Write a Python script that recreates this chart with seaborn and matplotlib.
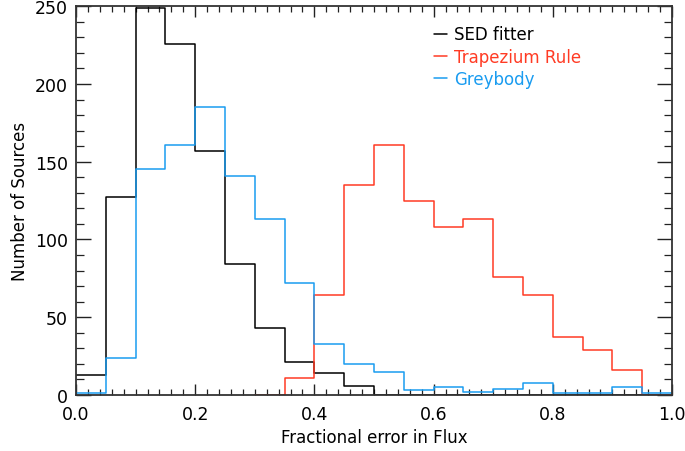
import numpy as np
import pandas as pd
import matplotlib
matplotlib.use("Agg")
import matplotlib.pyplot as plt
from matplotlib.ticker import MultipleLocator, FormatStrFormatter
import seaborn as sns

# Histogram bins of fractional flux error (width 0.05 from 0 to 1)
bin_edges = [round(0.05 * i, 2) for i in range(21)]
bin_centres = [round(0.05 * i + 0.025, 3) for i in range(20)]

# Counts per bin for each method
sed_fitter = [13, 127, 249, 226, 157, 84, 43, 21, 14, 6,
              0, 0, 0, 0, 0, 0, 0, 0, 0, 0]
trapezium = [0, 0, 0, 0, 0, 0, 0, 11, 64, 135,
             161, 125, 108, 113, 76, 64, 37, 29, 16, 0]
greybody = [1, 24, 145, 161, 185, 141, 113, 72, 33, 20,
            15, 3, 5, 2, 4, 8, 1, 1, 5, 1]

series_names = ["SED fitter", "Trapezium Rule", "Greybody"]
series_colors = ["#000000", "#ff3b24", "#1a9cf0"]

frames = []
for name, counts in zip(series_names, [sed_fitter, trapezium, greybody]):
    frames.append(pd.DataFrame({"err": bin_centres, "count": counts, "method": name}))
df = pd.concat(frames, ignore_index=True)

sns.set_theme(style="white")
plt.rcParams["font.family"] = ["DejaVu Sans"]
plt.rcParams.update({"text.color": "black", "axes.labelcolor": "black",
                     "xtick.color": "black", "ytick.color": "black"})

fig = plt.figure(figsize=(6.85, 4.52), dpi=100)
ax = fig.add_axes([0.111, 0.124, 0.870, 0.860])

# The trapezium curve begins one empty bin before its first count
start_idx = {"SED fitter": 0, "Trapezium Rule": 6, "Greybody": 0}
for name, color in zip(series_names, series_colors):
    i0 = start_idx[name]
    sub = df[df["method"] == name].iloc[i0:].reset_index(drop=True)
    sns.histplot(data=sub, x="err", weights="count",
                 bins=list(bin_edges[i0:]), element="step", fill=False,
                 color=color, linewidth=1.1, ax=ax, label=name)

ax.set_xlim(0, 1)
ax.set_ylim(0, 250)
ax.set_xlabel("Fractional error in Flux", fontsize=12, labelpad=4)
ax.set_ylabel("Number of Sources", fontsize=12, labelpad=4)

ax.xaxis.set_major_locator(MultipleLocator(0.2))
ax.xaxis.set_minor_locator(MultipleLocator(0.02))
ax.yaxis.set_major_locator(MultipleLocator(50))
ax.yaxis.set_minor_locator(MultipleLocator(10))
ax.xaxis.set_major_formatter(FormatStrFormatter("%.1f"))

ax.tick_params(axis="both", which="both", direction="in", top=True, right=True,
               bottom=True, left=True, color="#222222", labelsize=12.5,
               labelcolor="black")
ax.tick_params(axis="x", which="major", length=8, width=1.0, pad=7)
ax.tick_params(axis="x", which="minor", length=4, width=0.9)
ax.tick_params(axis="y", which="major", length=11, width=1.0, pad=6)
ax.tick_params(axis="y", which="minor", length=5.5, width=0.9)

for sp in ax.spines.values():
    sp.set_color("#333333")
    sp.set_linewidth(1.3)
    sp.set_zorder(3)

leg = ax.legend(loc="upper left", bbox_to_anchor=(0.59, 0.968), frameon=False,
                fontsize=12, handlelength=0.75, handletextpad=0.45,
                labelspacing=0.26, borderaxespad=0.0)
for text, color in zip(leg.get_texts(), series_colors):
    text.set_color(color)

fig.savefig("out.png", dpi=100)
